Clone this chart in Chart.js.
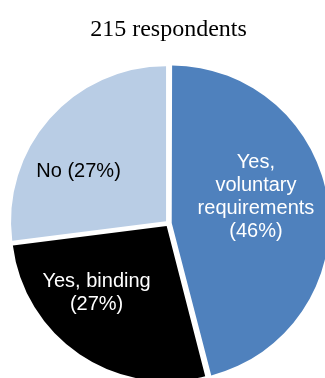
<!DOCTYPE html>
<html>
<head>
<meta charset="utf-8">
<script src="https://cdn.jsdelivr.net/npm/chart.js@4/dist/chart.umd.min.js"></script>
<style>
 html, body { margin: 0; padding: 0; background: #fff; }
 #wrap { width: 325px; height: 378px; }
</style>
</head>
<body>
<div id="wrap"><canvas id="pieChart"></canvas></div>
<script>
const titleText = '215 respondents';
const categories = ['Yes, voluntary requirements', 'Yes, binding', 'No'];
const shares = [46, 27, 27];
const sliceColors = ['#4F81BD', '#000000', '#B9CDE5'];
const labelColors = ['#ffffff', '#ffffff', '#000000'];

// wraps "name (xx%)" into lines no wider than maxWidth
function wrapLabel(ctx, text, maxWidth) {
 const words = text.split(' ');
 const lines = [];
 let line = '';
 words.forEach(w => {
   const test = line ? line + ' ' + w : w;
   if (line && ctx.measureText(test).width > maxWidth) {
     lines.push(line);
     line = w;
   } else {
     line = test;
   }
 });
 if (line) lines.push(line);
 return lines;
}

const sliceLabels = {
 id: 'sliceLabels',
 afterDatasetsDraw(chart, args, opts) {
   const ctx = chart.ctx;
   const arcs = chart.getDatasetMeta(0).data;
   ctx.save();
   ctx.font = opts.font;
   ctx.textAlign = 'center';
   ctx.textBaseline = 'middle';
   arcs.forEach((arc, i) => {
     const text = `${categories[i]} (${shares[i]}%)`;
     const lines = wrapLabel(ctx, text, opts.maxWidth);
     const a = (opts.angles[i] - 90) * Math.PI / 180;
     const d = arc.outerRadius * opts.dist[i];
     const cx = arc.x + Math.cos(a) * d;
     const cy = arc.y + Math.sin(a) * d;
     ctx.fillStyle = labelColors[i];
     const top = cy - (lines.length - 1) * opts.lineHeight / 2;
     lines.forEach((ln, j) => ctx.fillText(ln, cx, top + j * opts.lineHeight));
   });
   ctx.restore();
 }
};

new Chart(document.getElementById('pieChart'), {
 type: 'pie',
 data: {
   labels: categories,
   datasets: [{
     data: shares,
     backgroundColor: sliceColors,
     borderWidth: 0,
     offset: 13,
     hoverOffset: 0,
     radius: 155,
   }],
 },
 options: {
   responsive: true,
   maintainAspectRatio: false,
   animation: false,
   layout: { padding: { left: 12, right: 0, top: 0, bottom: 0 } },
   plugins: {
     legend: { display: false },
     tooltip: { enabled: false },
     title: {
       display: true,
       text: titleText,
       color: '#000',
       font: { family: '"Liberation Serif", "Times New Roman", serif', size: 24, weight: 'normal', lineHeight: 1.2 },
       padding: { top: 15, bottom: 25 },
     },
     sliceLabels: {
       font: '20px "Liberation Sans", Arial, sans-serif',
       lineHeight: 23,
       maxWidth: 120,
       angles: [73, 226, 300],
       dist: [0.59, 0.645, 0.67],
     },
   },
 },
 plugins: [sliceLabels],
});
</script>
</body>
</html>
